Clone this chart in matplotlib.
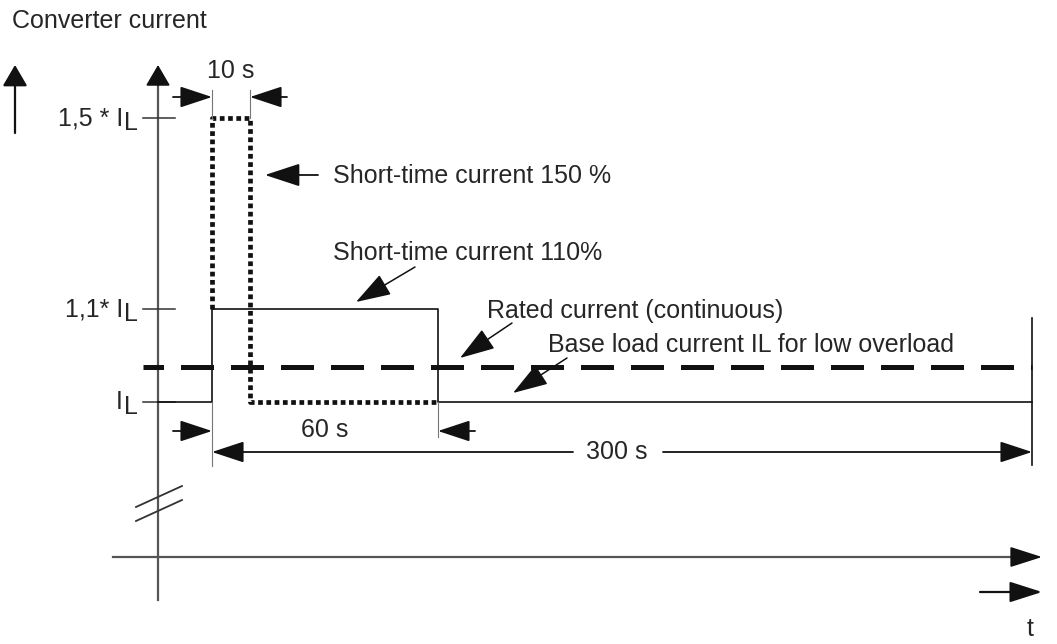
import numpy as np
import matplotlib.pyplot as plt

plt.rcParams['font.family'] = ['Liberation Sans', 'DejaVu Sans']

# ── Schematic scales: time (s) and current (x I_L) -> drawing units ─────────
T_ANCHOR = [0, 10, 60, 300]          # s
X_ANCHOR = [212, 250, 438, 1032]
I_ANCHOR = [1.0, 1.1, 1.5]           # multiples of I_L
Y_ANCHOR = [402, 309, 118]

# ── Current profiles ────────────────────────────────────────────────────────
# 110 % short-time overload (60 s within 300 s cycle)
T_110 = [0, 0, 60, 60, 300]
I_110 = [1.0, 1.1, 1.1, 1.0, 1.0]
# 150 % short-time overload (10 s)
T_150 = [0, 0, 10, 10, 60]
I_150 = [1.1, 1.5, 1.5, 1.0, 1.0]
RATED_LEVEL = 1.038                  # rated (continuous) current

TICK_LEVELS = [1.5, 1.1, 1.0]
TICK_LABELS = ['1,5 * I', '1,1* I', 'I']

AXIS_X = 158
AXIS_Y = 557
INK = '#111111'
TXT = '#262626'
AXIS_C = '#555555'
FS = 18


def tx(t):
    return np.interp(t, T_ANCHOR, X_ANCHOR)


def iy(i):
    return np.interp(i, I_ANCHOR, Y_ANCHOR)


def arrow(ax, tip, tail, hl=1.0, hw=0.33, lw=1.3, color=INK):
    ax.annotate('', xy=tip, xytext=tail,
                arrowprops=dict(arrowstyle=f'-|>,head_length={hl},head_width={hw}',
                                color=color, lw=lw, mutation_scale=20,
                                shrinkA=0, shrinkB=0))


fig = plt.figure(figsize=(10.57, 6.44), dpi=100)
ax = fig.add_axes([0, 0, 1, 1])
ax.set_xlim(0, 1057)
ax.set_ylim(644, 0)
ax.axis('off')

# Axes of the diagram
ax.plot([AXIS_X, AXIS_X], [600, 80], color=AXIS_C, lw=1.6)
arrow(ax, (AXIS_X, 65), (AXIS_X, 85), hl=0.65, hw=0.38)
ax.plot([113, 1020], [AXIS_Y, AXIS_Y], color=AXIS_C, lw=1.6)
arrow(ax, (1042, AXIS_Y), (1015, AXIS_Y), hl=1.0, hw=0.32)
arrow(ax, (15, 65), (15, 133), hl=0.65, hw=0.38, lw=1.6)
arrow(ax, (1042, 592), (980, 592), hl=1.0, hw=0.32, lw=1.6)

# Axis break marks
for dy in (0, 14):
    ax.plot([136, 182], [507 + dy, 486 + dy], color='#333333', lw=1.3)

# Level ticks and labels
for lvl, lab in zip(TICK_LEVELS, TICK_LABELS):
    y = iy(lvl)
    ax.plot([143, 175], [y, y], color='#333333', lw=1.1)
    ax.text(123, y, lab, ha='right', va='center', fontsize=FS, color=TXT)
    ax.text(124, y + 5, 'L', ha='left', va='center', fontsize=FS, color=TXT)

# Rated current
ax.plot([143, tx(300)], [iy(RATED_LEVEL)] * 2, color=INK, lw=3.6,
        linestyle=(2.5, (6.6, 3.4)), solid_capstyle='butt')

# 110 % profile
ax.plot(np.r_[AXIS_X, tx(T_110)], np.r_[iy(1.0), iy(I_110)], color=INK, lw=1.2)
ax.plot([tx(300)] * 2, [318, 465], color=INK, lw=1.2)

# 150 % profile (dotted)
ax.plot(tx(T_150), iy(I_150), color=INK, lw=3.4, linestyle=(0, (1.0, 0.75)),
        dash_capstyle='butt')

# Dimension lines
ext_c = '#777777'
ax.plot([tx(0)] * 2, [90, 118], color=ext_c, lw=0.8)
ax.plot([tx(10)] * 2, [90, 118], color=ext_c, lw=0.8)
ax.plot([tx(0)] * 2, [402, 466], color=ext_c, lw=0.8)
ax.plot([tx(60)] * 2, [402, 437], color=ext_c, lw=0.8)

arrow(ax, (tx(0), 97), (173, 97))
arrow(ax, (tx(10), 97), (287, 97))
ax.text(231, 78, '10 s', ha='center', va='baseline', fontsize=FS, color=TXT)

arrow(ax, (tx(0), 431), (173, 431))
arrow(ax, (tx(60), 431), (475, 431))
ax.text(325, 437, '60 s', ha='center', va='baseline', fontsize=FS, color=TXT)

arrow(ax, (tx(0), 452), (573, 452))
arrow(ax, (tx(300), 452), (663, 452))
ax.text(617, 452, '300 s', ha='center', va='center', fontsize=FS, color=TXT)

# Annotations
ax.text(12, 28, 'Converter current', ha='left', va='baseline', fontsize=FS,
        color=TXT)
arrow(ax, (265, 175), (318, 175), hl=1.1, hw=0.36)
ax.text(333, 183, 'Short-time current 150 %', ha='left', va='baseline',
        fontsize=FS, color=TXT)
arrow(ax, (356, 302), (415, 267), lw=1.1, hl=1.1, hw=0.36)
ax.text(333, 260, 'Short-time current 110%', ha='left', va='baseline',
        fontsize=FS, color=TXT)
arrow(ax, (460, 358), (512, 323), lw=1.1, hl=1.1, hw=0.36)
ax.text(487, 318, 'Rated current (continuous)', ha='left', va='baseline',
        fontsize=FS, color=TXT)
arrow(ax, (513, 393), (567, 358), lw=1.1, hl=1.1, hw=0.36)
ax.text(548, 352, 'Base load current IL for low overload', ha='left',
        va='baseline', fontsize=FS, color=TXT)
ax.text(1030, 636, 't', ha='center', va='baseline', fontsize=FS, color=TXT)

fig.savefig('out.png', dpi=100)
